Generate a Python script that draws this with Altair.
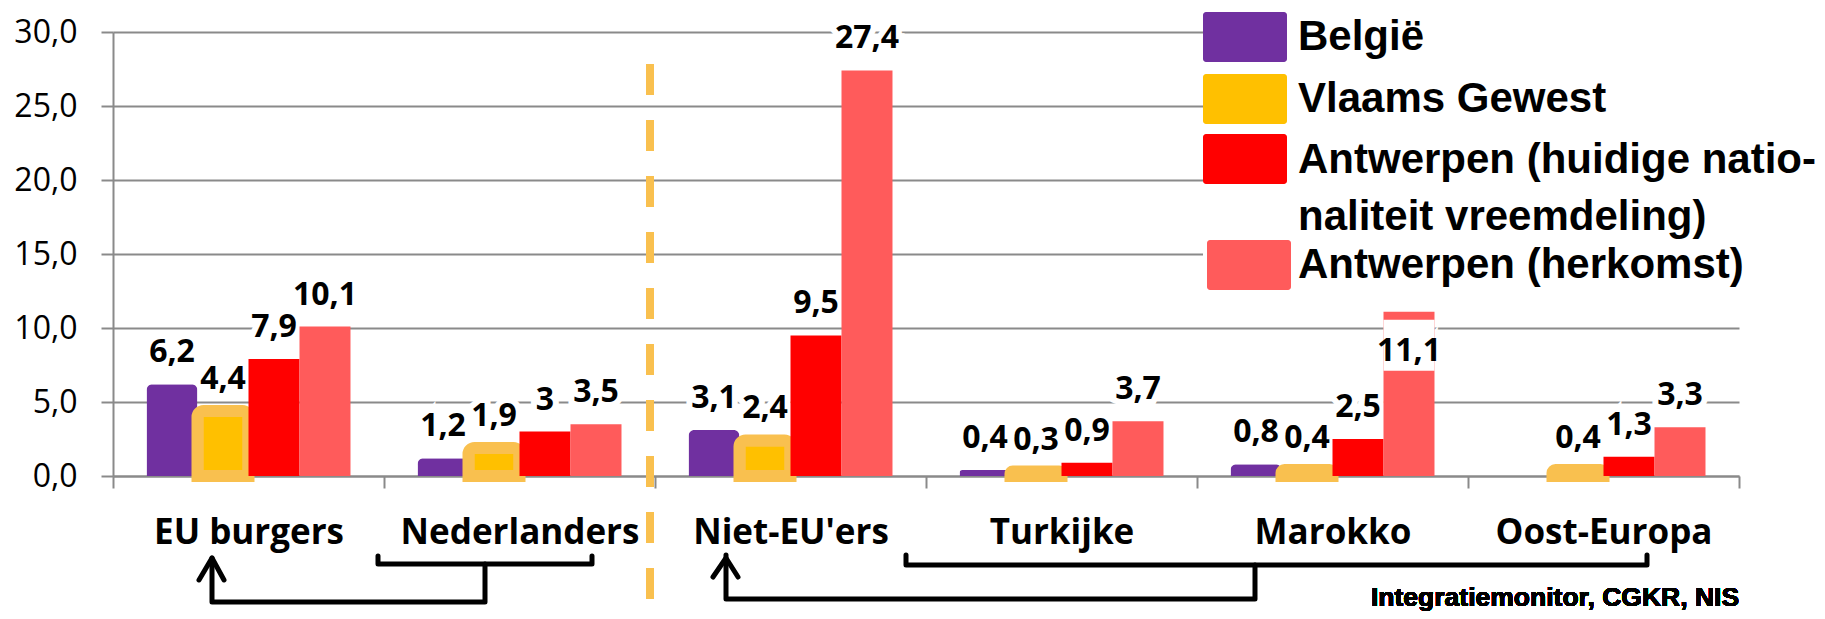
import altair as alt
import pandas as pd

# ---------------- data ----------------
categories = ["EU burgers", "Nederlanders", "Niet-EU'ers", "Turkijke", "Marokko", "Oost-Europa"]
series = ["België", "Vlaams Gewest",
          "Antwerpen (huidige nationaliteit vreemdeling)", "Antwerpen (herkomst)"]
belgie = [6.2, 1.2, 3.1, 0.4, 0.8, None]
vlaams = [4.4, 1.9, 2.4, 0.3, 0.4, 0.4]
antw_nat = [7.9, 3.0, 9.5, 0.9, 2.5, 1.3]
antw_herk = [10.1, 3.5, 27.4, 3.7, 11.1, 3.3]
y_ticks = [0, 5, 10, 15, 20, 25, 30]
legend_lines = ["België", "Vlaams Gewest", "Antwerpen (huidige natio-",
                "naliteit vreemdeling)", "Antwerpen (herkomst)"]
source_text = "Integratiemonitor, CGKR, NIS"

# ---------------- styles ----------------
colors = ["#7030A0", "#FFC000", "#FF0000", "#FF5B5B"]
yellow_border = "#F9C04F"
grid_gray = "#8A8A8A"

# ---------------- layout (pixels, plot-area coordinates) ----------------
PW, PH = 1626, 444
legend_swatch_x = [1090, 1090, 1090, 1094]
legend_swatch_y = [-20, 42, 102, 208]
legend_text_x = 1185
legend_text_y = [18, 80, 141, 198, 246]
bracket_paths = {
    "a1": [(265, 524), (265, 532), (479, 532), (479, 524)],
    "a2": [(372, 532), (372, 570), (99, 570), (99, 526)],
    "a3": [(86, 548), (99, 526), (111, 548)],
    "b1": [(793, 523), (793, 533), (1534, 533), (1534, 523)],
    "b2": [(1142, 533), (1142, 567), (613, 567), (613, 523)],
    "b3": [(600, 545), (613, 526), (625, 545)],
}

# ---------------- tables ----------------
rows = []
for ci, c in enumerate(categories):
    for s, vals in zip(series, [belgie, vlaams, antw_nat, antw_herk]):
        v = vals[ci]
        if v is None:
            continue
        rows.append(dict(cat=c, series=s, value=v,
                         label=f"{v:g}".replace(".", ","),
                         inside=(c == "Marokko" and s == series[3])))
df = pd.DataFrame(rows)

leg_sw = pd.DataFrame(dict(series=series,
                           x=legend_swatch_x, x2=[v + 84 for v in legend_swatch_x],
                           y=legend_swatch_y, y2=[v + 50 for v in legend_swatch_y]))
leg_tx = pd.DataFrame(dict(t=legend_lines, x=[legend_text_x] * len(legend_lines),
                           y=legend_text_y))
path_rows = []
for k, pts in bracket_paths.items():
    for i, (px, py) in enumerate(pts):
        path_rows.append(dict(path=k, i=i, px=px, py=py))
paths = pd.DataFrame(path_rows)

# ---------------- encodings ----------------
x_axis = alt.Axis(title=None, labelFont="Open Sans", labelFontWeight="bold",
                  labelFontSize=35, labelColor="black", labelBaseline="alphabetic",
                  labelPadding=55, labelAngle=0, labelLimit=500, tickBand="extent",
                  tickSize=12, tickColor=grid_gray, tickWidth=2,
                  domainColor=grid_gray, domainWidth=2, grid=False)
y_axis = alt.Axis(title=None, values=y_ticks,
                  labelExpr="replace(format(datum.value, '.1f'), '.', ',')",
                  labelFont="Open Sans", labelFontSize=32, labelColor="black",
                  labelPadding=24, tickSize=12, tickColor=grid_gray, tickWidth=2,
                  domainColor=grid_gray, domainWidth=2, grid=True,
                  gridColor=grid_gray, gridWidth=2)

x_scale = alt.Scale(domain=categories, paddingInner=0, paddingOuter=0)
xo_scale = alt.Scale(domain=series, paddingInner=0, paddingOuter=0.657)
y_scale = alt.Scale(domain=[0, 30], nice=False, zero=True)
color_scale = alt.Scale(domain=series, range=colors)


def enc_xy(axis=False):
    return dict(
        x=alt.X("cat:N", scale=x_scale, axis=x_axis if axis else None),
        xOffset=alt.XOffset("series:N", scale=xo_scale),
        y=alt.Y("value:Q", scale=y_scale, axis=y_axis if axis else None),
    )


base = alt.Chart(df)

legend_bg = alt.Chart(df).mark_rect(color="white").encode(
    x=alt.value(1090), x2=alt.value(1700), y=alt.value(-14), y2=alt.value(265))

lbl_font = dict(font="Open Sans", fontWeight="bold", fontSize=32,
                baseline="alphabetic", align="center")

halo_out = base.transform_filter("!datum.inside").mark_text(
    dy=-22, fill="white", stroke="white", strokeWidth=12, **lbl_font
).encode(text="label:N", **enc_xy())
halo_in = base.transform_filter("datum.inside").mark_text(
    dy=49, fill="white", stroke="white", strokeWidth=12, **lbl_font
).encode(text="label:N", **enc_xy())

bars1 = base.transform_filter(
    alt.FieldOneOfPredicate(field="series", oneOf=series[:2])
).mark_bar(cornerRadiusTopLeft=6, cornerRadiusTopRight=6).encode(
    color=alt.Color("series:N", scale=color_scale, legend=None),
    stroke=alt.value(yellow_border),
    strokeWidth=alt.condition(alt.datum.series == series[1], alt.value(12), alt.value(0)),
    **enc_xy(axis=True))

bars2 = base.transform_filter(
    alt.FieldOneOfPredicate(field="series", oneOf=series[2:])
).mark_bar().encode(
    color=alt.Color("series:N", scale=color_scale, legend=None),
    **enc_xy())

inside_box = base.transform_filter("datum.inside").mark_bar(
    color="white", yOffset=8, y2Offset=59
).encode(y2=alt.Y2("value:Q"), **enc_xy())

txt_out = base.transform_filter("!datum.inside").mark_text(
    dy=-22, color="black", **lbl_font).encode(text="label:N", **enc_xy())
txt_in = base.transform_filter("datum.inside").mark_text(
    dy=49, color="black", **lbl_font).encode(text="label:N", **enc_xy())

separator = alt.Chart(df).mark_rule(
    color=yellow_border, strokeWidth=7, strokeDash=[31, 25], strokeCap="butt"
).encode(x=alt.value(537), y=alt.value(32), y2=alt.value(568))

brackets = alt.Chart(paths).mark_line(
    color="black", strokeWidth=5, strokeCap="round", strokeJoin="round"
).encode(x=alt.X("px:Q", scale=None, axis=None),
         y=alt.Y("py:Q", scale=None, axis=None),
         detail="path:N", order="i:Q")

swatches = alt.Chart(leg_sw).mark_rect(cornerRadius=3).encode(
    x=alt.X("x:Q", scale=None, axis=None), x2="x2:Q",
    y=alt.Y("y:Q", scale=None, axis=None), y2="y2:Q",
    color=alt.Color("series:N", scale=color_scale, legend=None))

legend_text = alt.Chart(leg_tx).mark_text(
    font="Liberation Sans", fontWeight="bold", fontSize=42, align="left",
    baseline="alphabetic", color="black"
).encode(x=alt.X("x:Q", scale=None, axis=None),
         y=alt.Y("y:Q", scale=None, axis=None), text="t:N")

source = alt.Chart(df).mark_text(
    font="Liberation Sans", fontWeight="bold", fontSize=26.5, align="left",
    baseline="alphabetic", color="black"
).encode(x=alt.value(1258), y=alt.value(574), text=alt.value(source_text))

chart = alt.layer(
    legend_bg, halo_out, halo_in, bars1, bars2, inside_box, txt_out, txt_in,
    separator, brackets, swatches, legend_text, source
).resolve_scale(
    x="independent", y="independent", color="independent"
).properties(
    width=PW, height=PH,
    padding={"left": 105, "top": 24, "right": 78, "bottom": 135},
    autosize=alt.AutoSizeParams(type="none"),
    background="white",
).configure_view(stroke=None)

chart.save("out.html", embed_options={"renderer": "svg", "actions": False})
